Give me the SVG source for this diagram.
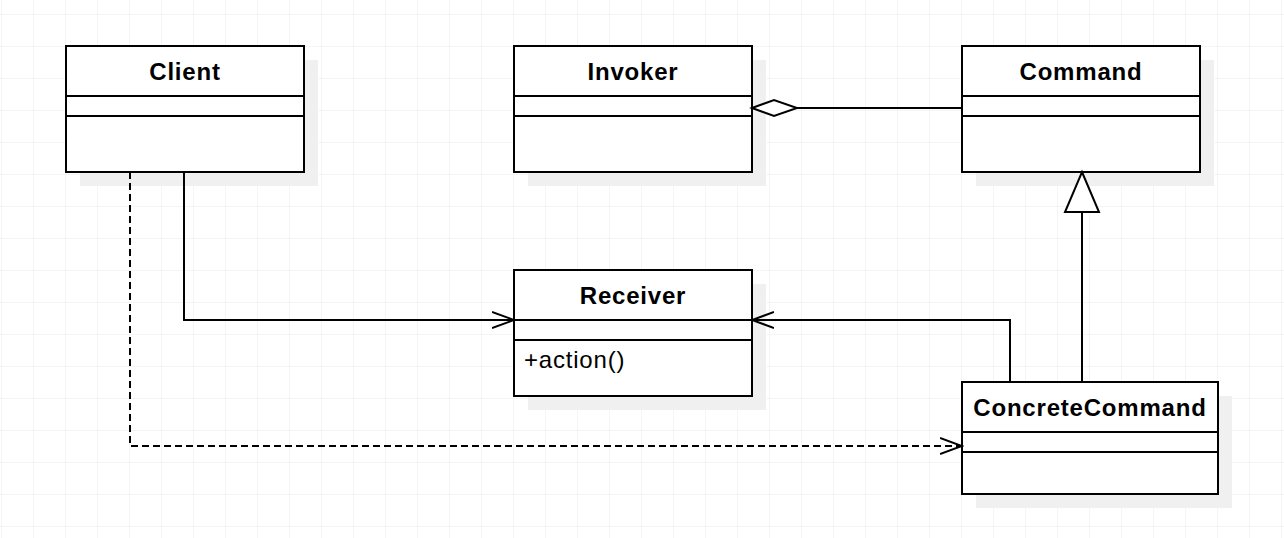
<svg xmlns="http://www.w3.org/2000/svg" width="1284" height="538" viewBox="0 0 1284 538">
<defs>
<pattern id="grid" x="1" y="14" width="32" height="32" patternUnits="userSpaceOnUse">
<path d="M0 0H32M0 0V32" fill="none" stroke="#ececec" stroke-width="1"/>
</pattern>
<marker id="open" viewBox="0 0 24 18" markerWidth="24" markerHeight="18" refX="22" refY="9" orient="auto" markerUnits="userSpaceOnUse">
<path d="M0 1L22 9L0 17" fill="none" stroke="#000" stroke-width="2"/>
</marker>
</defs>
<style>
.box{fill:#fff;stroke:#000;stroke-width:2}
.sh{fill:#f0f0f0}
.sep{stroke:#000;stroke-width:2}
.t{font-family:"Liberation Sans",Arial,sans-serif;font-size:24px;font-weight:bold;text-anchor:middle;letter-spacing:0.8px}
.m{font-family:"Liberation Sans",Arial,sans-serif;font-size:24px;letter-spacing:0.8px}
.ln{fill:none;stroke:#000;stroke-width:2}
</style>
<rect width="1284" height="538" fill="#fff"/>
<rect width="1284" height="538" fill="url(#grid)"/>
<g id="Client">
<rect class="sh" x="80" y="60" width="238" height="126"/>
<rect class="box" x="66" y="46" width="238" height="126"/>
<line class="sep" x1="66" y1="96" x2="304" y2="96"/>
<line class="sep" x1="66" y1="116" x2="304" y2="116"/>
<text class="t" x="185" y="79.5">Client</text>
</g>
<g id="Invoker">
<rect class="sh" x="528" y="60" width="238" height="126"/>
<rect class="box" x="514" y="46" width="238" height="126"/>
<line class="sep" x1="514" y1="96" x2="752" y2="96"/>
<line class="sep" x1="514" y1="116" x2="752" y2="116"/>
<text class="t" x="633" y="79.5">Invoker</text>
</g>
<g id="Command">
<rect class="sh" x="976" y="60" width="238" height="126"/>
<rect class="box" x="962" y="46" width="238" height="126"/>
<line class="sep" x1="962" y1="96" x2="1200" y2="96"/>
<line class="sep" x1="962" y1="116" x2="1200" y2="116"/>
<text class="t" x="1081" y="79.5">Command</text>
</g>
<g id="Receiver">
<rect class="sh" x="528" y="284" width="238" height="126"/>
<rect class="box" x="514" y="270" width="238" height="126"/>
<line class="sep" x1="514" y1="320" x2="752" y2="320"/>
<line class="sep" x1="514" y1="340" x2="752" y2="340"/>
<text class="t" x="633" y="303.5">Receiver</text>
<text class="m" x="524" y="368">+action()</text>
</g>
<g id="ConcreteCommand">
<rect class="sh" x="976" y="396" width="256" height="112"/>
<rect class="box" x="962" y="382" width="256" height="112"/>
<line class="sep" x1="962" y1="432" x2="1218" y2="432"/>
<line class="sep" x1="962" y1="452" x2="1218" y2="452"/>
<text class="t" x="1090" y="415.5">ConcreteCommand</text>
</g>
<g id="connectors">
<path class="ln" d="M797 108H962"/>
<path d="M752 108L774 100L797 108L774 116Z" fill="#fff" stroke="#000" stroke-width="2"/>
<path class="ln" d="M1082 382V212"/>
<path d="M1082 172L1099 212H1065Z" fill="#fff" stroke="#000" stroke-width="2"/>
<path class="ln" d="M1010 382V320H752" marker-end="url(#open)"/>
<path class="ln" d="M184 172V320H514" marker-end="url(#open)"/>
<path class="ln" d="M130 172V446H962" stroke-dasharray="7 4" marker-end="url(#open)"/>
</g>
</svg>
